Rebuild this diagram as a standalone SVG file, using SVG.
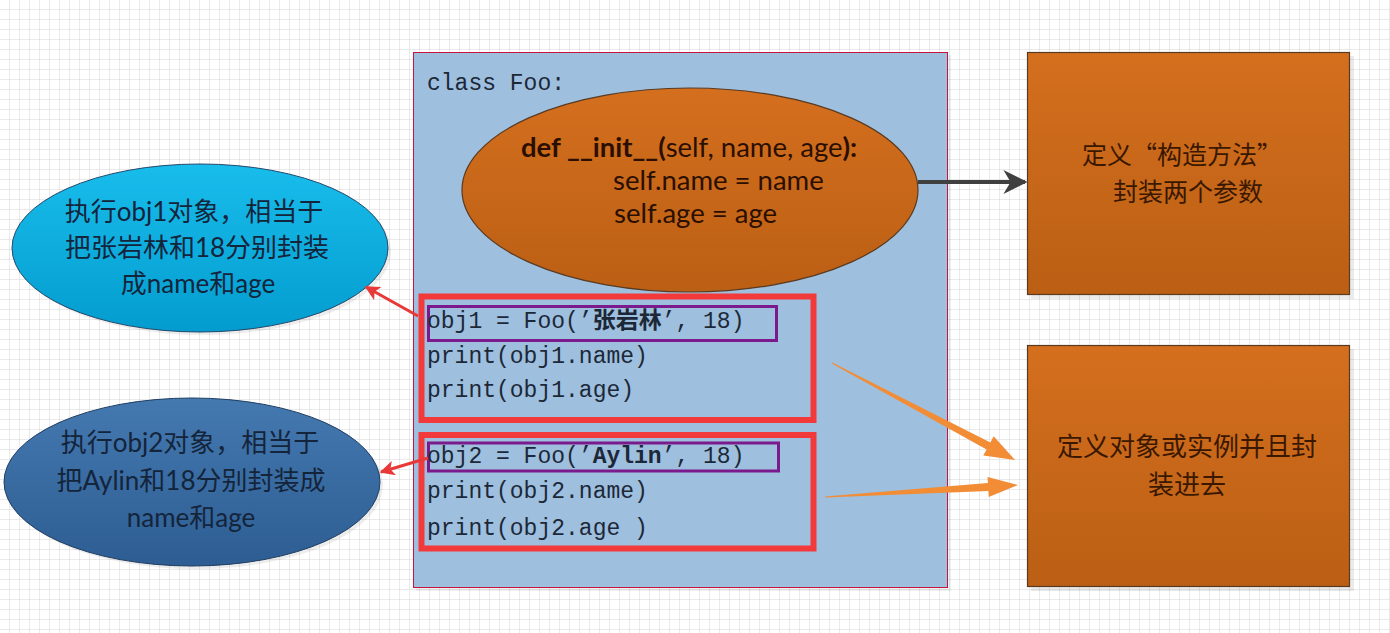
<svg xmlns="http://www.w3.org/2000/svg" width="1390" height="633" viewBox="0 0 1390 633">
<style>
.code{font-family:"Liberation Mono","Noto Sans CJK SC",monospace;font-size:23px;fill:#1c2838}
.cjk{font-family:"Noto Sans CJK SC",sans-serif;font-size:25px;fill:#3a1800;text-anchor:middle}
.lab{font-family:Lato,"Noto Sans CJK SC",sans-serif;font-size:26px;fill:#14243a;text-anchor:middle}
.def{font-family:Lato,"Noto Sans CJK SC",sans-serif;font-size:27.5px;fill:#2a0f00}
.redbox{fill:none;stroke:#f23a3a;stroke-width:6}
.pbox{fill:none;stroke:#7b1a8c;stroke-width:3}
.obox{stroke:#5a3a20;stroke-width:1.2;fill:url(#og)}
.redarrow{stroke:#e83838;stroke-width:3;fill:none;marker-end:url(#rh)}
</style>
<defs>
<pattern id="grid" width="10" height="10" patternUnits="userSpaceOnUse">
<path d="M10 0V10M0 10H10" stroke="#d4d4d4" stroke-width="1" fill="none"/>
</pattern>
<linearGradient id="og" x1="0" y1="0" x2="0" y2="1">
<stop offset="0" stop-color="#d46f1e"/>
<stop offset="1" stop-color="#bb5f14"/>
</linearGradient>
<linearGradient id="cg" x1="0" y1="0" x2="0" y2="1">
<stop offset="0" stop-color="#18bdec"/>
<stop offset="1" stop-color="#049ccf"/>
</linearGradient>
<linearGradient id="bg2" x1="0" y1="0" x2="0" y2="1">
<stop offset="0" stop-color="#4479b0"/>
<stop offset="1" stop-color="#2d5d92"/>
</linearGradient>
<marker id="dh" viewBox="0 0 10 10" refX="9" refY="5" markerWidth="6" markerHeight="6" markerUnits="strokeWidth" orient="auto">
<path d="M0 0L10 5L0 10L3 5Z" fill="#404040"/>
</marker>
<marker id="rh" viewBox="0 0 10 10" refX="9" refY="5" markerWidth="6" markerHeight="5" markerUnits="strokeWidth" orient="auto">
<path d="M0 0L10 5L0 10L2.5 5Z" fill="#e83838"/>
</marker>
</defs>
<rect width="1390" height="633" fill="#ffffff"/>
<rect width="1390" height="633" fill="url(#grid)"/>

<g id="classbox">
<rect x="416" y="55" width="535" height="536" fill="#000" opacity="0.06"/>
<rect x="413.5" y="52.5" width="534" height="535" fill="#9ebfde" stroke="#c41440" stroke-width="1"/>
<text class="code" x="427" y="90">class Foo:</text>
</g>

<g id="init-ellipse">
<ellipse cx="690" cy="190" rx="228" ry="102" class="obox"/>
<text class="def" x="521" y="157"><tspan font-weight="bold">def __init__(</tspan>self, name, age<tspan font-weight="bold">):</tspan></text>
<text class="def" x="613" y="190">self.name = name</text>
<text class="def" x="614" y="223">self.age = age</text>
</g>

<g id="obj1-block">
<rect class="redbox" x="421.5" y="296.5" width="392" height="123.5"/>
<rect class="pbox" x="428.5" y="306.5" width="348" height="34"/>
<text class="code" x="427" y="328">obj1 = Foo(’<tspan font-weight="bold">张岩林</tspan>’, 18)</text>
<text class="code" x="427" y="363">print(obj1.name)</text>
<text class="code" x="427" y="397">print(obj1.age)</text>
</g>

<g id="obj2-block">
<rect class="redbox" x="421.5" y="435" width="392" height="113.5"/>
<rect class="pbox" x="428.5" y="443" width="350" height="28"/>
<text class="code" x="427" y="463">obj2 = Foo(’<tspan font-weight="bold">Aylin</tspan>’, 18)</text>
<text class="code" x="427" y="498">print(obj2.name)</text>
<text class="code" x="427" y="535">print(obj2.age )</text>
</g>

<g id="constructor-box">
<rect x="1031" y="56" width="323" height="243" fill="#000" opacity="0.08"/>
<rect class="obox" x="1027.5" y="52.5" width="322" height="242"/>
<text class="cjk" x="1182" y="164">定义“构造方法”</text>
<text class="cjk" x="1188" y="201">封装两个参数</text>
</g>

<g id="instance-box">
<rect x="1031" y="349" width="323" height="242" fill="#000" opacity="0.08"/>
<rect class="obox" x="1027.5" y="345.5" width="322" height="241"/>
<text class="cjk" x="1187" y="456" style="font-size:26px">定义对象或实例并且封</text>
<text class="cjk" x="1187" y="494" style="font-size:26px">装进去</text>
</g>

<g id="obj1-note">
<ellipse cx="203" cy="251" rx="188" ry="84" fill="#000" opacity="0.07"/>
<ellipse cx="200" cy="248" rx="188" ry="84" fill="url(#cg)" stroke="#23486a" stroke-width="1"/>
<text class="lab" x="194" y="221">执行obj1对象，相当于</text>
<text class="lab" x="197" y="257">把张岩林和18分别封装</text>
<text class="lab" x="198" y="293">成name和age</text>
</g>

<g id="obj2-note">
<ellipse cx="195" cy="485" rx="188" ry="84" fill="#000" opacity="0.07"/>
<ellipse cx="192" cy="482" rx="188" ry="84" fill="url(#bg2)" stroke="#1f3d60" stroke-width="1"/>
<text class="lab" x="190" y="452">执行obj2对象，相当于</text>
<text class="lab" x="191" y="490">把Aylin和18分别封装成</text>
<text class="lab" x="191" y="527">name和age</text>
</g>

<g id="connectors">
<line x1="918" y1="182" x2="1025" y2="182" stroke="#404040" stroke-width="4" marker-end="url(#dh)"/>
<line class="redarrow" x1="418" y1="316" x2="366" y2="287"/>
<line class="redarrow" x1="428" y1="458" x2="381" y2="472"/>
<polygon fill="#f28c35" points="831.8,363.4 986.6,449.4 983.3,455.6 1015,460 993.7,436.2 990.4,442.4 832.2,362.6"/>
<polygon fill="#f28c35" points="825,497.5 988.4,490.9 988.7,496.9 1018,485 987.5,476.9 987.9,482.9 825,496.5"/>
</g>
</svg>
